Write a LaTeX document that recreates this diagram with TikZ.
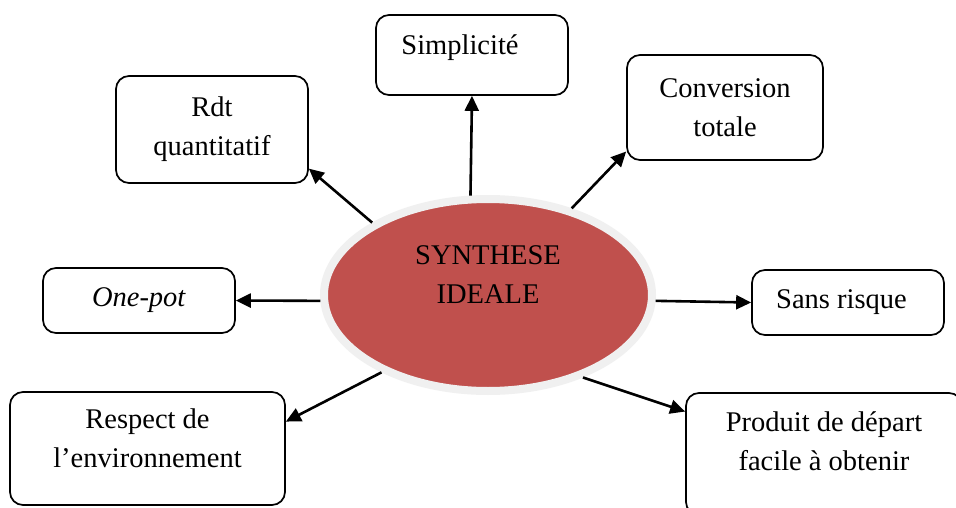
\documentclass[tikz,border=0pt]{standalone}
\usepackage{fontspec}
\setmainfont{Liberation Serif}
\usetikzlibrary{arrows.meta,shapes.geometric}
\definecolor{ellred}{HTML}{C0504D}
\definecolor{ringgray}{HTML}{F0F0F0}
\begin{document}
\begin{tikzpicture}[x=1pt,y=-1pt,
  box/.style={draw=black, line width=1.7pt, rounded corners=13pt, align=center,
    inner sep=0pt, font=\fontsize{28.5}{39}\selectfont},
  arr/.style={line width=2.6pt, -{Triangle[length=15pt,width=14pt]}}]
\useasboundingbox (0,0) rectangle (956,508);
\clip (0,0) rectangle (956,508);
\fill[white] (0,0) rectangle (956,508);
\node[ellipse, fill=ellred, draw=ringgray, line width=8pt, inner sep=0pt,
  minimum width=328pt, minimum height=192pt, align=center,
  font=\fontsize{28.5}{39}\selectfont] (e) at (488,295)
  {SYNTHESE\\IDEALE\rule[-40pt]{0pt}{1pt}};
\node[box, minimum width=192pt, minimum height=107pt] (rdt) at (212,129.5) {Rdt\\quantitatif};
\node[box, minimum width=192pt, minimum height=80pt, text height=10pt, text depth=10pt] (simp) at (472,55) {Simplicité\kern24pt};
\node[box, minimum width=196pt, minimum height=105pt] (cv) at (725,107.5) {Conversion\\totale};
\node[box, minimum width=192pt, minimum height=65pt] (sr) at (848,302.5) {Sans risque\kern13pt};
\node[box, minimum width=192pt, minimum height=65pt] (op) at (139,300.5) {\textit{One-pot}};
\node[box, minimum width=275pt, minimum height=113pt] (re) at (147.5,448.5) {Respect de\\l’environnement\rule[-21pt]{0pt}{1pt}};
\node[box, minimum width=276pt, minimum height=122pt] (pd) at (824,454) {Produit de départ\\facile à obtenir\rule[-25pt]{0pt}{1pt}};
\draw[arr] (e.100) -- (simp.south);
\draw[arr] (e.148) -- (rdt.-22);
\draw[arr] (e.46) -- (cv.204);
\draw[arr] (e.-2) -- (sr.west);
\draw[arr] (e.182) -- (op.east);
\draw[arr] (e.216) -- (re.11.5);
\draw[arr] (e.-41) -- (pd.163.5);
\end{tikzpicture}
\end{document}
